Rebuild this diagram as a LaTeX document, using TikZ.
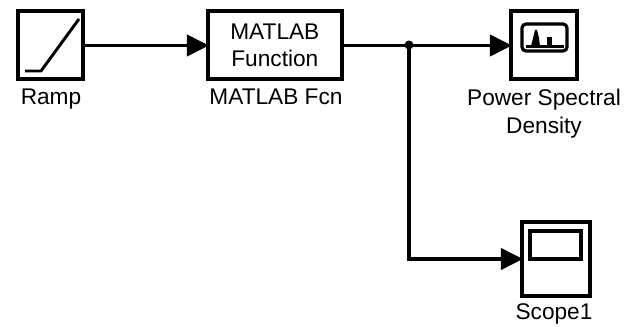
\documentclass[tikz,border=0pt]{standalone}
\usepackage{fontspec}
\setmainfont{Liberation Sans}
\usetikzlibrary{arrows.meta,positioning}
\tikzset{
  x=0.75pt,y=-0.75pt,
  blockbox/.style={draw=black,line width=3pt,fill=white,inner sep=0pt,outer sep=0pt,minimum height=51pt,anchor=north west},
  lbl/.style={inner sep=0pt,font=\fontsize{17pt}{20pt}\selectfont,align=center,anchor=base},
  wire/.style={draw=black,line width=2.6pt},
  arrowwire/.style={wire,-{Triangle[length=16.5pt,width=16pt]}, shorten >=-1pt},
  icon/.style={draw=black,line width=2.2pt}
}
\begin{document}
\begin{tikzpicture}
\useasboundingbox (0,0) rectangle (636,327);
\node[blockbox,minimum width=49pt] (ramp) at (17.5,11.5) {};
\node[blockbox,minimum width=101pt,align=center,font=\fontsize{17pt}{20pt}\selectfont] (fcn) at (207.5,11.5) {MATLAB\\Function};
\node[blockbox,minimum width=50pt] (psd) at (510.5,11.5) {};
\node[blockbox,minimum width=51pt,minimum height=55.5pt] (scope) at (521.5,222) {};
\node[lbl] (lramp) at (51,105) {Ramp};
\node[lbl] (lfcn) at (276,105) {MATLAB Fcn};
\node[lbl] (lpsd) at (544,106) {Power Spectral};
\node[lbl] (lpsd2) at (544,134) {Density};
\node[lbl] (lscope) at (554,320) {Scope1};
\coordinate (rampR) at (ramp.east);
\coordinate (j) at (409,45);
\coordinate (bend) at (j |- scope.west);
\draw[arrowwire] (rampR) -- (fcn.west);
\draw[arrowwire] (fcn.east) -- (psd.west);
\draw[arrowwire] (j) -- (bend) -- (scope.west);
\fill[black] (j) circle (3.4pt);
% Ramp icon
\draw[icon,line join=round] (25,71) -- (41,71) -- (79,19);
% PSD icon
\draw[icon,line width=2.4pt,rounded corners=3pt] (522,24) rectangle (567,51);
\fill[black] (531,46) -- (533,38) -- (535,30) -- (537,30) -- (539,38) -- (540,46) -- cycle;
\fill[black] (547,46) rectangle (552,37);
\draw[line width=1.6pt] (526,46.5) -- (564,46.5);
% Scope icon
\draw[icon,line width=2.6pt] (530,231) rectangle (581,259);
\end{tikzpicture}
\end{document}
